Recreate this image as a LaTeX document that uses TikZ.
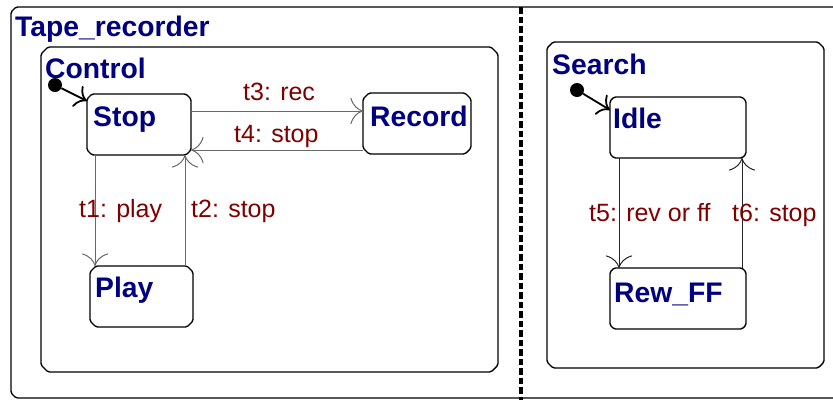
\documentclass[tikz,border=0pt]{standalone}
\usepackage{fontspec}
\setmainfont{Liberation Sans}
\usetikzlibrary{arrows.meta,calc}
\definecolor{titleblue}{RGB}{0,0,128}
\definecolor{labelred}{RGB}{128,0,0}
\definecolor{trgray}{RGB}{105,105,105}

% outline of a state with cut corners, drawn round a named node
\newcommand\chambox[2]{%
  \draw[boxline] ([xshift=#2]#1.north west) -- ([xshift=-#2]#1.north east)
    -- ([yshift=-#2]#1.north east) -- ([yshift=#2]#1.south east)
    -- ([xshift=-#2]#1.south east) -- ([xshift=#2]#1.south west)
    -- ([yshift=#2]#1.south west) -- ([yshift=-#2]#1.north west) -- cycle;}

\begin{document}
\begin{tikzpicture}[x=1pt,y=-1pt,
  box/.style={rectangle, inner sep=0pt, outer sep=0pt, anchor=north west},
  boxline/.style={draw=black, line width=1.4pt, rounded corners=1.5pt, line join=round},
  title/.style={anchor=base west, inner sep=0pt, text=titleblue,
    font=\bfseries\fontsize{28.3}{30}\selectfont},
  tlabel/.style={anchor=base west, inner sep=0pt, text=labelred,
    font=\fontsize{25}{28}\selectfont},
  trans/.style={line width=1pt, draw=#1,
    -{To[scale=3.3]}},
  trans/.default=trgray,
  initdot/.style={circle, fill=black, inner sep=0pt, minimum size=14pt},
  initarrow/.style={line width=1.8pt, -{To[scale=2]}}
]
\useasboundingbox (0,0) rectangle (833,400);

% outer and-state, right side runs past the page edge
\node[box, minimum width=850pt, minimum height=391pt] (tape) at (11,7) {};
\begin{scope}
\clip (0,0) rectangle (833,400);
\chambox{tape}{5pt}
\end{scope}
\node[title] (tapetitle) at (15,36) {Tape\_recorder};
\coordinate (divtop) at (521,7);
\coordinate (divbot) at (521,400);
\draw[line width=3.2pt, dash pattern=on 6.5pt off 3pt] (divtop) -- (divbot);

% Control region
\node[box, minimum width=457pt, minimum height=325pt] (control) at (41,47) {};
\chambox{control}{7pt}
\node[title] (controltitle) at (45,78) {Control};
\node[box, minimum width=104pt, minimum height=61pt] (stop) at (87,94) {};
\chambox{stop}{5pt}
\node[title] (stoptitle) at (93,126) {Stop};
\node[box, minimum width=108pt, minimum height=61pt] (record) at (363,93) {};
\chambox{record}{6pt}
\node[title] (recordtitle) at (370,126) {Record};
\node[box, minimum width=103pt, minimum height=61pt] (play) at (90,266) {};
\chambox{play}{6pt}
\node[title] (playtitle) at (95,297) {Play};

\node[initdot] (cinit) at (55,85) {};
\draw[initarrow] (cinit) -- ([yshift=-7pt]stop.north west);

\draw[trans] ([yshift=-17pt]stop.north east) -- ([yshift=-17pt]stop.north east -| record.west);
\node[tlabel] (t3) at (243,100) {t3: rec};
\draw[trans] ([yshift=4pt]record.south west) -- ([yshift=4pt]record.south west -| stop.east);
\node[tlabel] (t4) at (234,142) {t4: stop};
\draw[trans] ([xshift=8pt]stop.south west) -- ([xshift=8pt]stop.south west |- play.north);
\node[tlabel] (t1) at (79,217) {t1: play};
\draw[trans] ([xshift=-8pt]play.north east) -- ([xshift=-8pt]play.north east |- stop.south);
\node[tlabel] (t2) at (191,217) {t2: stop};

% Search region
\node[box, minimum width=277pt, minimum height=326pt] (search) at (547,42) {};
\chambox{search}{6pt}
\node[title] (searchtitle) at (552,74) {Search};
\node[box, minimum width=136pt, minimum height=61pt] (idle) at (610,97) {};
\chambox{idle}{4pt}
\node[title] (idletitle) at (613,128) {Idle};
\node[box, minimum width=136pt, minimum height=61pt] (rewff) at (610,268) {};
\chambox{rewff}{4pt}
\node[title] (rewfftitle) at (614,302) {Rew\_FF};

\node[initdot] (sinit) at (577,90) {};
\draw[initarrow] (sinit) -- ([yshift=-13pt]idle.north west);

\draw[trans=black!85] ([xshift=9pt]idle.south west) -- ([xshift=9pt]idle.south west |- rewff.north);
\node[tlabel] (t5) at (589,221) {t5: rev or ff};
\draw[trans=black!85] ([xshift=-4pt]rewff.north east) -- ([xshift=-4pt]rewff.north east |- idle.south);
\node[tlabel] (t6) at (732,221) {t6: stop};
\end{tikzpicture}
\end{document}
